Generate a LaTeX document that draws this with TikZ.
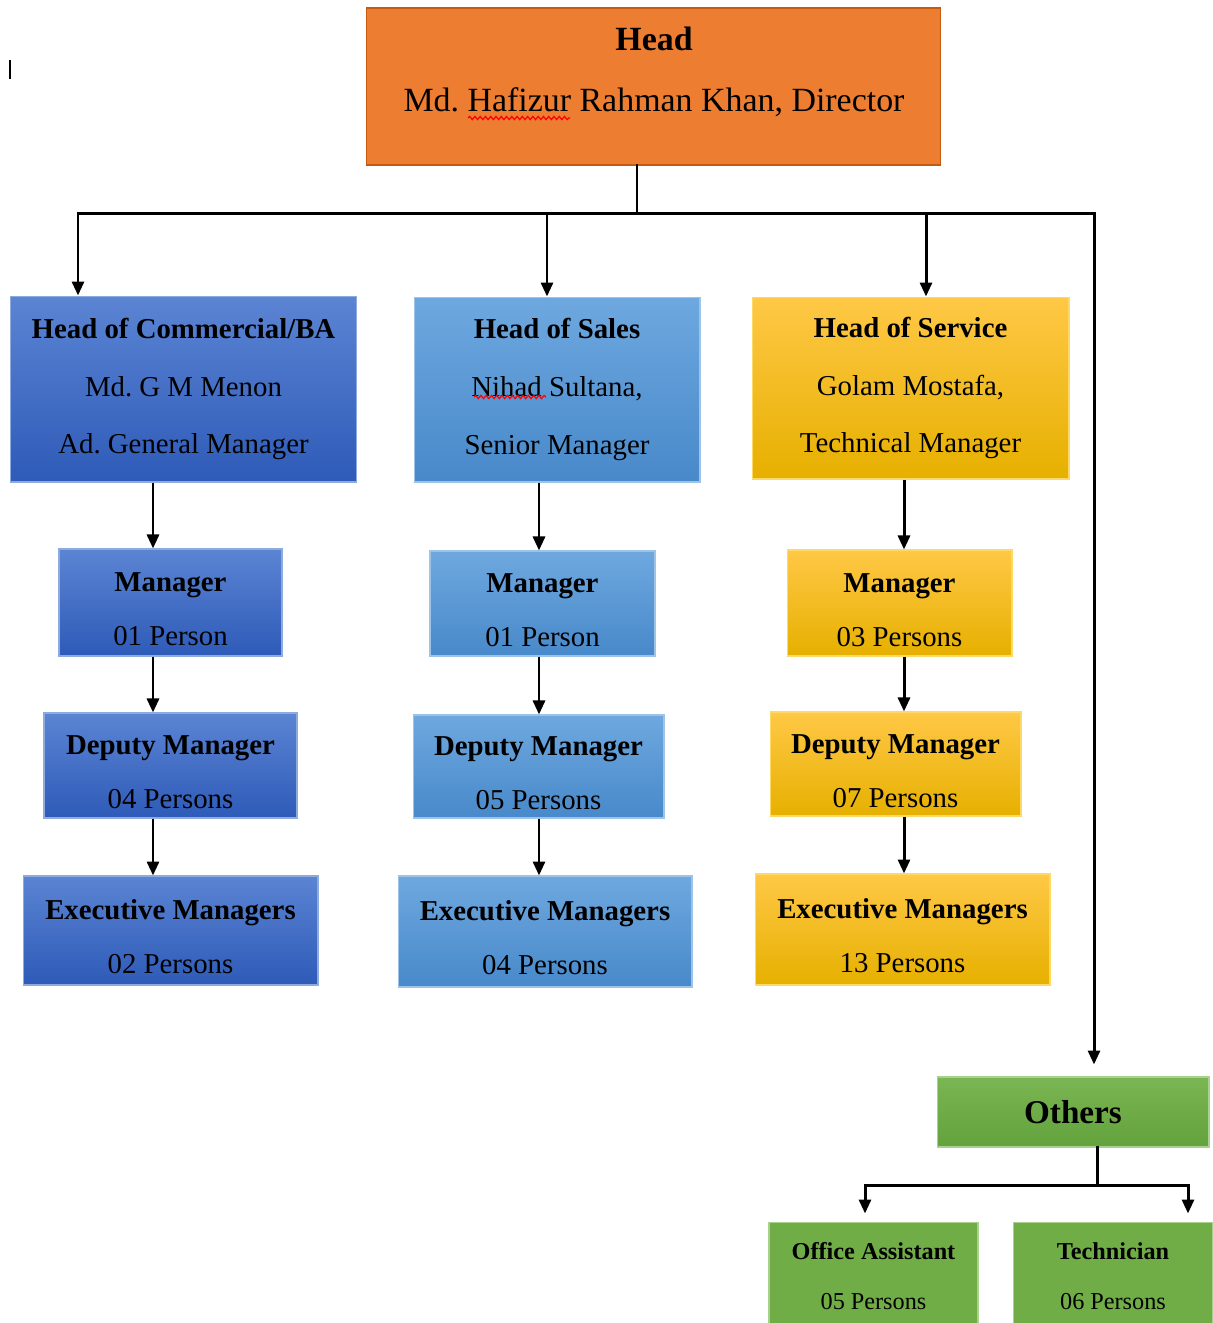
\documentclass[tikz,border=0pt]{standalone}
\usepackage{fontspec}
\setmainfont{Liberation Serif}
\usetikzlibrary{arrows.meta,decorations.pathmorphing}
\definecolor{orHead}{HTML}{ED7D31}
\definecolor{orEdge}{HTML}{C55A11}
\definecolor{bAtop}{HTML}{5B84D3}
\definecolor{bAbot}{HTML}{2E5BB8}
\definecolor{bAedge}{HTML}{8FAADC}
\definecolor{bBtop}{HTML}{6EA8DF}
\definecolor{bBbot}{HTML}{4889CA}
\definecolor{bBedge}{HTML}{9DC3E6}
\definecolor{gTop}{HTML}{FFC846}
\definecolor{gBot}{HTML}{E6B000}
\definecolor{gEdge}{HTML}{FFD966}
\definecolor{grTop}{HTML}{7AB653}
\definecolor{grBot}{HTML}{63A23C}
\definecolor{grFlat}{HTML}{70AD47}
\definecolor{grEdge}{HTML}{A9D18E}
\newcommand{\topgap}{\rule{0pt}{18.5pt}}
\begin{document}
\frenchspacing
\begin{tikzpicture}[x=0.02cm,y=-0.02cm,
  box/.style={rectangle, inner sep=0pt, align=center, text=black, line width=0.6pt},
  lvone/.style={box, font=\fontsize{16.4}{32.9}\selectfont},
  lvrest/.style={box, font=\fontsize{16.4}{30.7}\selectfont},
  lvsmall/.style={box, font=\fontsize{13.8}{28.4}\selectfont},
  blueA/.style={top color=bAtop, bottom color=bAbot, draw=bAedge},
  blueB/.style={top color=bBtop, bottom color=bBbot, draw=bBedge},
  gold/.style={top color=gTop, bottom color=gBot, draw=gEdge},
  greenG/.style={top color=grTop, bottom color=grBot, draw=grEdge},
  greenF/.style={fill=grFlat, draw=grEdge},
  ln/.style={line width=1.7pt, black, line cap=rect},
  arr/.style={line width=1.7pt, black, -{Triangle[length=0.28cm,width=0.24cm]}},
  wavy/.style={red, line width=0.7pt, decorate, decoration={snake, amplitude=0.9pt, segment length=3pt}}
]
\clip (0,0) rectangle (1213,1323);
\fill[white] (0,0) rectangle (1213,1323);

% stray cursor mark
\draw[black, line width=0.9pt] (10,60) -- (10,79);

% Head
\node[box, fill=orHead, draw=orEdge, minimum width=11.5cm, minimum height=3.14cm] (head) at (653.5,86.5) {};
\node[box, font=\fontsize{19.3}{35}\selectfont] (headtxt) at (654,72) {\textbf{Head}\\Md. Hafizur Rahman Khan, Director};
\draw[wavy] (468,118) -- (570,118);

% Level 1
\node[lvone, blueA, minimum width=6.94cm, minimum height=3.72cm] (comm) at (183.5,389) {\textbf{Head of Commercial/BA}\\Md. G M Menon\\Ad. General Manager};
\node[lvone, blueB, minimum width=5.72cm, minimum height=3.70cm] (sales) at (557,389.5) {\textbf{Head of Sales}\\Nihad Sultana,\\Senior Manager};
\draw[wavy] (474,397) -- (546,397);
\node[lvone, gold, minimum width=6.34cm, minimum height=3.64cm] (serv) at (910.5,388) {\textbf{Head of Service}\\Golam Mostafa,\\Technical Manager};

% Level 2
\node[lvrest, blueA, minimum width=4.46cm, minimum height=2.14cm] (mgrA) at (170.5,602.5) {\topgap\textbf{Manager}\\01 Person};
\node[lvrest, blueB, minimum width=4.50cm, minimum height=2.10cm] (mgrB) at (542.5,603.5) {\topgap\textbf{Manager}\\01 Person};
\node[lvrest, gold, minimum width=4.50cm, minimum height=2.12cm] (mgrC) at (899.5,603) {\topgap\textbf{Manager}\\03 Persons};

% Level 3
\node[lvrest, blueA, minimum width=5.06cm, minimum height=2.10cm] (depA) at (170.5,765.5) {\topgap\textbf{Deputy Manager}\\04 Persons};
\node[lvrest, blueB, minimum width=5.02cm, minimum height=2.06cm] (depB) at (538.5,766.5) {\topgap\textbf{Deputy Manager}\\05 Persons};
\node[lvrest, gold, minimum width=5.02cm, minimum height=2.08cm] (depC) at (895.5,764) {\topgap\textbf{Deputy Manager}\\07 Persons};

% Level 4
\node[lvrest, blueA, minimum width=5.90cm, minimum height=2.18cm] (exeA) at (170.5,930.5) {\topgap\textbf{Executive Managers}\\02 Persons};
\node[lvrest, blueB, minimum width=5.88cm, minimum height=2.22cm] (exeB) at (545,931.5) {\topgap\textbf{Executive Managers}\\04 Persons};
\node[lvrest, gold, minimum width=5.90cm, minimum height=2.22cm] (exeC) at (902.5,929.5) {\topgap\textbf{Executive Managers}\\13 Persons};

% Others
\node[box, greenG, font=\fontsize{18.9}{22}\selectfont\bfseries, minimum width=5.44cm, minimum height=1.40cm] (others) at (1073,1112) {Others};
\node[lvsmall, greenF, minimum width=4.18cm, minimum height=2.16cm] (office) at (873.5,1276) {\textbf{Office Assistant}\\05 Persons};
\node[lvsmall, greenF, minimum width=4.00cm, minimum height=2.16cm] (tech) at (1113,1276) {\textbf{Technician}\\06 Persons};

% Top bus
\coordinate (trunk) at (637,213);
\coordinate (bL) at (78,213);
\coordinate (bM) at (547,213);
\coordinate (bS) at (926,213);
\coordinate (bR) at (1094,213);
\draw[ln] (head.south -| trunk) -- (trunk);
\draw[ln] (bL) -- (bR);
\draw[arr] (bL) -- (bL |- comm.north);
\draw[arr] (bM) -- (bM |- sales.north);
\draw[arr] (bS) -- (bS |- serv.north);
\draw[arr, shorten >=0.24cm] (bR) -- (bR |- others.north);

% Columns
\coordinate (c1) at (153,0);
\coordinate (c2) at (539,0);
\coordinate (c3) at (904,0);
\draw[arr] (comm.south -| c1) -- (mgrA.north -| c1);
\draw[arr] (mgrA.south -| c1) -- (depA.north -| c1);
\draw[arr] (depA.south -| c1) -- (exeA.north -| c1);
\draw[arr] (sales.south -| c2) -- (mgrB.north -| c2);
\draw[arr] (mgrB.south -| c2) -- (depB.north -| c2);
\draw[arr] (depB.south -| c2) -- (exeB.north -| c2);
\draw[arr] (serv.south -| c3) -- (mgrC.north -| c3);
\draw[arr] (mgrC.south -| c3) -- (depC.north -| c3);
\draw[arr] (depC.south -| c3) -- (exeC.north -| c3);

% Others branch
\coordinate (oc) at (1097,1185);
\coordinate (oL) at (865,1185);
\coordinate (oR) at (1188,1185);
\draw[ln] (others.south -| oc) -- (oc);
\draw[ln] (oL) -- (oR);
\draw[arr, shorten >=0.16cm] (oL) -- (oL |- office.north);
\draw[arr, shorten >=0.16cm] (oR) -- (oR |- tech.north);
\end{tikzpicture}
\end{document}
